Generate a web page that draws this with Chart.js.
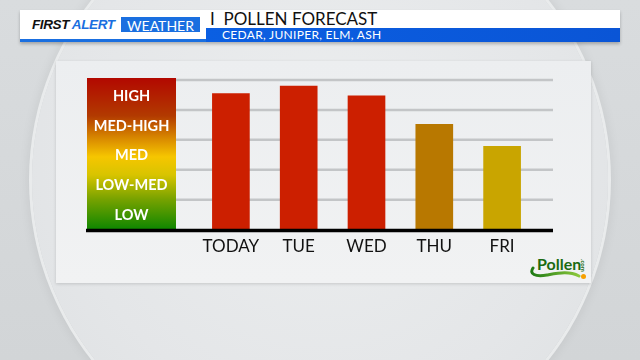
<!DOCTYPE html>
<html><head><meta charset="utf-8">
<script src="https://cdn.jsdelivr.net/npm/chart.js@4"></script>
<style>
html,body{margin:0;padding:0}
body{width:640px;height:360px;overflow:hidden;position:relative;background:linear-gradient(180deg,#d9dcde 0%,#d2d5d7 100%);font-family:Lato,"Open Sans",sans-serif}
.abs{position:absolute}
#circle{left:32px;top:-108px;width:576px;height:576px;border-radius:50%;background:radial-gradient(circle at 50% 45%,#eceeef 0%,#e4e6e8 60%,#dcdfe1 100%);box-shadow:0 0 0 3px #e9ebec,0 0 14px rgba(0,0,0,0.12)}
#panel{left:56px;top:61px;width:535px;height:222px;background:linear-gradient(180deg,#eceef0 0%,#f1f2f3 100%);box-shadow:0 1px 3px rgba(0,0,0,0.15)}
#hdr{left:20px;top:10px;width:600px;height:32px;background:#fff;box-shadow:0 2px 3px rgba(0,0,0,0.25)}
#strip{left:20px;top:39px;width:186px;height:3px;background:#1a6fe0}
#bluebar{left:206px;top:28px;width:414px;height:14px;background:linear-gradient(90deg,#0b5fe2,#0a55d6)}
#fa{left:32px;top:17px;height:15px;line-height:15px;font:italic bold 13.5px "Liberation Sans",Arial,sans-serif;color:#111;letter-spacing:-0.4px}
#fa span{color:#1a6fe0}
#wx{left:121px;top:17px;width:79px;height:15px;line-height:15px;background:#1a6fe0;color:#fff;font:14px Lato,sans-serif;text-align:center}
#title{left:210px;top:8px;line-height:20px;font:17px Lato,sans-serif;color:#111;white-space:nowrap}
#sub{left:222px;top:27px;line-height:14px;font:12px Lato,sans-serif;color:#fff;letter-spacing:0.3px;white-space:nowrap}
#pl{left:537px;top:254px;font:bold 16px Lato,sans-serif;color:#1b6b12;line-height:19px}
#com{left:587px;top:259px;font:bold 6px Lato,sans-serif;color:#1b6b12;transform:rotate(90deg);transform-origin:left top}
#dot{left:581px;top:274px;width:5px;height:5px;border-radius:50%;background:#f7a000}
canvas{position:absolute;left:0;top:0}
</style></head>
<body>
<div id="circle" class="abs"></div>
<div id="panel" class="abs"></div>
<div id="hdr" class="abs"></div>
<div id="strip" class="abs"></div>
<div id="bluebar" class="abs"></div>
<div id="fa" class="abs">FIRST <span>ALERT</span></div>
<div id="wx" class="abs">WEATHER</div>
<div id="title" class="abs">I&nbsp;&nbsp;POLLEN FORECAST</div>
<div id="sub" class="abs">CEDAR, JUNIPER, ELM, ASH</div>
<svg class="abs" style="left:529px;top:265px" width="52" height="16">
  <defs><linearGradient id="sw" x1="0" x2="1"><stop offset="0" stop-color="#1e7a14"/><stop offset="1" stop-color="#8cc83c"/></linearGradient></defs>
  <path d="M4 3 C0 9, 6 12, 18 10 C30 8, 40 6, 50 11" stroke="url(#sw)" stroke-width="3" fill="none" stroke-linecap="round"/>
</svg>
<div id="pl" class="abs">Pollen</div>
<div id="com" class="abs">.com</div>
<div id="dot" class="abs"></div>
<canvas id="c" width="640" height="360"></canvas>
<script>
const days = ['TODAY','TUE','WED','THU','FRI'];
const pollenLevel = [4.55, 4.8, 4.47, 3.52, 2.78];
const barColors = ['#cc1f00','#cc1f00','#cc1f00','#b87800','#c9a500'];
const levelLabels = ['LOW','LOW-MED','MED','MED-HIGH','HIGH'];

const bandPlugin = {
  id: 'bands',
  beforeDatasetsDraw(chart) {
    const ctx = chart.ctx, y = chart.scales.y;
    const L = 87, R = 553, W = 89;
    ctx.save();
    ctx.strokeStyle = '#c3c5c7';
    ctx.lineWidth = 2.5;
    for (let v = 1; v <= levelLabels.length; v++) {
      const py = y.getPixelForValue(v);
      ctx.beginPath(); ctx.moveTo(L, py); ctx.lineTo(R, py); ctx.stroke();
    }
    const top = y.getPixelForValue(levelLabels.length) - 2;
    const bot = y.getPixelForValue(0);
    const g = ctx.createLinearGradient(0, top, 0, bot);
    g.addColorStop(0, '#b20800');
    g.addColorStop(0.25, '#b23a00');
    g.addColorStop(0.4, '#d98a00');
    g.addColorStop(0.52, '#f6c600');
    g.addColorStop(0.64, '#d8c400');
    g.addColorStop(0.8, '#77a200');
    g.addColorStop(1, '#0e8600');
    ctx.fillStyle = g;
    ctx.fillRect(L, top, W, bot - top);
    ctx.fillStyle = '#ffffff';
    ctx.font = 'bold 14.5px Lato, sans-serif';
    ctx.textAlign = 'center';
    ctx.textBaseline = 'middle';
    levelLabels.forEach((t, i) => {
      ctx.fillText(t, L + W / 2, y.getPixelForValue(i + 0.5) + 1);
    });
    ctx.restore();
  },
  afterDatasetsDraw(chart) {
    const ctx = chart.ctx, y = chart.scales.y;
    const py = y.getPixelForValue(0);
    ctx.save();
    ctx.strokeStyle = '#000';
    ctx.lineWidth = 3.5;
    ctx.beginPath(); ctx.moveTo(86, py + 1); ctx.lineTo(553, py + 1); ctx.stroke();
    ctx.restore();
  }
};

new Chart(document.getElementById('c'), {
  type: 'bar',
  data: {
    labels: days,
    datasets: [{ data: pollenLevel, backgroundColor: barColors, borderWidth: 0, barThickness: 37 }]
  },
  options: {
    responsive: false,
    animation: false,
    events: [],
    layout: { padding: { left: 197, right: 104, top: 80, bottom: 96 } },
    plugins: { legend: { display: false }, tooltip: { enabled: false } },
    scales: {
      x: {
        grid: { display: false, drawTicks: false, tickLength: 0 },
        border: { display: false },
        ticks: { color: '#111', padding: 7, font: { family: 'Lato', size: 17 } }
      },
      y: { display: false, min: 0, max: 5 }
    }
  },
  plugins: [bandPlugin]
});
</script>
</body></html>
